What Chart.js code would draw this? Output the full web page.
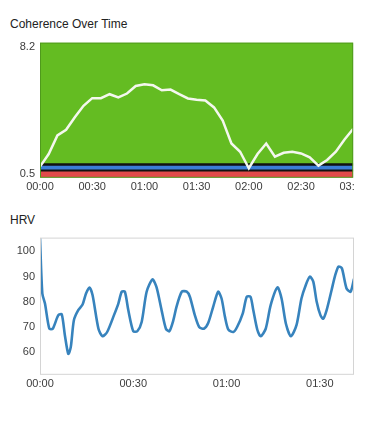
<!DOCTYPE html>
<html>
<head>
<meta charset="utf-8">
<script src="https://cdn.jsdelivr.net/npm/chart.js@4"></script>
<style>
  body { margin: 0; background: #fff; font-family: "Liberation Sans", Arial, sans-serif; }
  .title { position: absolute; left: 10px; font-size: 12px; color: #222; }
  .box { position: absolute; left: 0; overflow: hidden; }
</style>
</head>
<body>
<div class="title" style="top:17px">Coherence Over Time</div>
<div class="box" style="top:31px;width:355px;height:170px">
  <canvas id="chart-coherence" width="370" height="166"></canvas>
</div>
<div class="title" style="top:213px">HRV</div>
<div class="box" style="top:226px;width:370px;height:172px">
  <canvas id="chart-hrv" width="370" height="168"></canvas>
</div>
<script>
// ==================================================
// DATA
// ==================================================
// coherence, one reading every 5 minutes
const coherenceMinutes = [0, 5, 10, 15, 20, 25, 30, 35, 40, 45, 50, 55, 60, 65, 70, 75, 80, 85, 90,
  95, 100, 105, 110, 115, 120, 125, 130, 135, 140, 145, 150, 155, 160, 165, 170, 175, 180];
const coherenceValues = [0.68, 1.44, 2.57, 2.91, 3.67, 4.37, 4.83, 4.83, 5.07, 4.87, 5.11, 5.57, 5.67,
  5.61, 5.31, 5.35, 5.07, 4.81, 4.73, 4.69, 4.27, 3.47, 2.08, 1.58, 0.58, 1.44, 2.08, 1.28, 1.52,
  1.58, 1.48, 1.24, 0.74, 1.08, 1.58, 2.32, 2.97];
const coherenceTicks = [0.5, 8.2];
const coherenceTimeTicks = [0, 30, 60, 90, 120, 150, 180];
const lowLevel = 0.45;
const mediumLevel = 0.81;

const hrvMinutes = [0, 0.75, 1.6, 3.0, 4.1, 5.9, 7.0, 8.0, 9.1, 9.9, 10.9, 12.3, 13.7, 14.8, 15.9,
  16.9, 18.8, 20.1, 21.6, 23.8, 25.2, 26.3, 27.3, 28.4, 30.0, 31.3, 32.7, 34.3, 36.2, 37.5, 39.1,
  40.5, 41.6, 42.9, 43.9, 45.6, 47.2, 48.2, 49.8, 51.2, 52.7, 54.1, 55.7, 57.3, 58.4, 59.5, 60.6,
  62.2, 63.4, 65.2, 66.5, 67.7, 68.6, 69.9, 71.0, 72.6, 74.2, 76.4, 77.7, 79.1, 80.7, 82.5, 84.1,
  85.5, 86.8, 87.9, 89.0, 90.2, 91.1, 92.2, 93.8, 94.9, 96.0, 97.1, 98.6, 99.9, 101.0];
const hrvValues = [105.3, 83.3, 79.3, 69.3, 69.3, 74.7, 75, 66.7, 59.3, 62, 72.7, 76.7, 78.9, 83.3,
  85.7, 82.7, 69.3, 66.3, 68, 74.7, 79.3, 84, 84, 76.7, 68.3, 68.3, 72, 84, 88.9, 85.7, 76.7,
  69.3, 68.3, 72.7, 78, 84, 84, 82, 74.7, 70, 69.3, 71.6, 78, 84, 81.3, 74, 68.9, 68, 70, 75.3,
  82, 82, 76.7, 68.9, 66.3, 69.3, 78.7, 85.7, 81.3, 71.3, 66.3, 70.7, 81.3, 86.7, 90, 88, 80,
  74.7, 73.3, 76.7, 84.7, 90.3, 94, 93.3, 85.3, 84, 89.1];
const hrvTicks = [60, 70, 80, 90, 100];
const hrvTimeTicks = [0, 30, 60, 90];

// ==================================================
// HELPER FUNCTIONS
// ==================================================
const toPoints = (xs, ys) => xs.map((x, i) => ({ x: x, y: ys[i] }));
const flat = (value) => [{ x: 0, y: value }, { x: 180, y: value }];
const asTicks = (values) => (scale) => { scale.ticks = values.map((v) => ({ value: v })); };
const clock = (minutes) => {
  const h = Math.floor(minutes / 60);
  const m = Math.round(minutes % 60);
  return String(h).padStart(2, "0") + ":" + String(m).padStart(2, "0");
};

// outline round the plot area
const frame = (color) => ({
  id: "frame",
  afterDatasetsDraw(chart) {
    const { ctx, chartArea } = chart;
    ctx.save();
    ctx.strokeStyle = color;
    ctx.lineWidth = 1;
    ctx.strokeRect(chartArea.left + 0.5, chartArea.top + 0.5,
      chartArea.right - chartArea.left - 1, chartArea.bottom - chartArea.top - 1);
    ctx.restore();
  },
});

Chart.defaults.font.family = '"Liberation Sans", Arial, sans-serif';
Chart.defaults.font.size = 11;
Chart.defaults.color = "#3c3c3c";
Chart.defaults.animation = false;

const tickFont = { size: 11 };

// ==================================================
// COHERENCE CHART
// ==================================================
new Chart(document.getElementById("chart-coherence"), {
  type: "line",
  data: {
    datasets: [
      {
        data: toPoints(coherenceMinutes, coherenceValues),
        borderColor: "#f4f7ee",
        borderWidth: 2.5,
        pointRadius: 0,
        tension: 0,
        fill: false,
      },
      {
        data: flat(lowLevel),
        borderColor: "#111",
        borderWidth: 2,
        backgroundColor: "#e14b4b",
        pointRadius: 0,
        fill: "origin",
      },
      {
        data: flat(mediumLevel),
        borderColor: "#111",
        borderWidth: 2.5,
        backgroundColor: "#3b7ed6",
        pointRadius: 0,
        fill: "-1",
      },
      {
        data: flat(8.2),
        borderWidth: 0,
        backgroundColor: "#64bc22",
        pointRadius: 0,
        fill: "-1",
      },
    ],
  },
  options: {
    responsive: false,
    layout: { padding: { top: 4, right: 14, left: 0, bottom: 0 } },
    plugins: { legend: { display: false }, tooltip: { enabled: false } },
    scales: {
      x: {
        type: "linear",
        min: 0,
        max: 180,
        grid: { display: false, drawTicks: false },
        border: { display: false },
        afterBuildTicks: asTicks(coherenceTimeTicks),
        ticks: { padding: 3, font: tickFont, callback: (v) => clock(v) },
      },
      y: {
        min: 0,
        max: 8.2,
        grid: { display: false, drawTicks: false },
        border: { display: false },
        afterBuildTicks: asTicks(coherenceTicks),
        afterFit: (scale) => { scale.width = 40; },
        ticks: { padding: 5, labelOffset: 4, font: tickFont },
      },
    },
  },
  plugins: [frame("#4f9a1c")],
});

// ==================================================
// HRV CHART
// ==================================================
new Chart(document.getElementById("chart-hrv"), {
  type: "line",
  data: {
    datasets: [
      {
        data: toPoints(hrvMinutes, hrvValues),
        borderColor: "#3783bd",
        borderWidth: 2.6,
        pointRadius: 0,
        tension: 0.25,
        fill: false,
      },
    ],
  },
  options: {
    responsive: false,
    layout: { padding: { top: 6, right: 16, left: 0, bottom: 0 } },
    plugins: { legend: { display: false }, tooltip: { enabled: false } },
    scales: {
      x: {
        type: "linear",
        min: 0,
        max: 101,
        grid: { display: false, drawTicks: false },
        border: { display: false },
        afterBuildTicks: asTicks(hrvTimeTicks),
        ticks: { padding: 3, font: tickFont, callback: (v) => clock(v) },
      },
      y: {
        min: 51,
        max: 105.5,
        grid: { display: false, drawTicks: false },
        border: { display: false },
        afterBuildTicks: asTicks(hrvTicks),
        afterFit: (scale) => { scale.width = 40; },
        ticks: { padding: 5, font: tickFont },
      },
    },
  },
  plugins: [frame("#d4d4d4")],
});
</script>
</body>
</html>
